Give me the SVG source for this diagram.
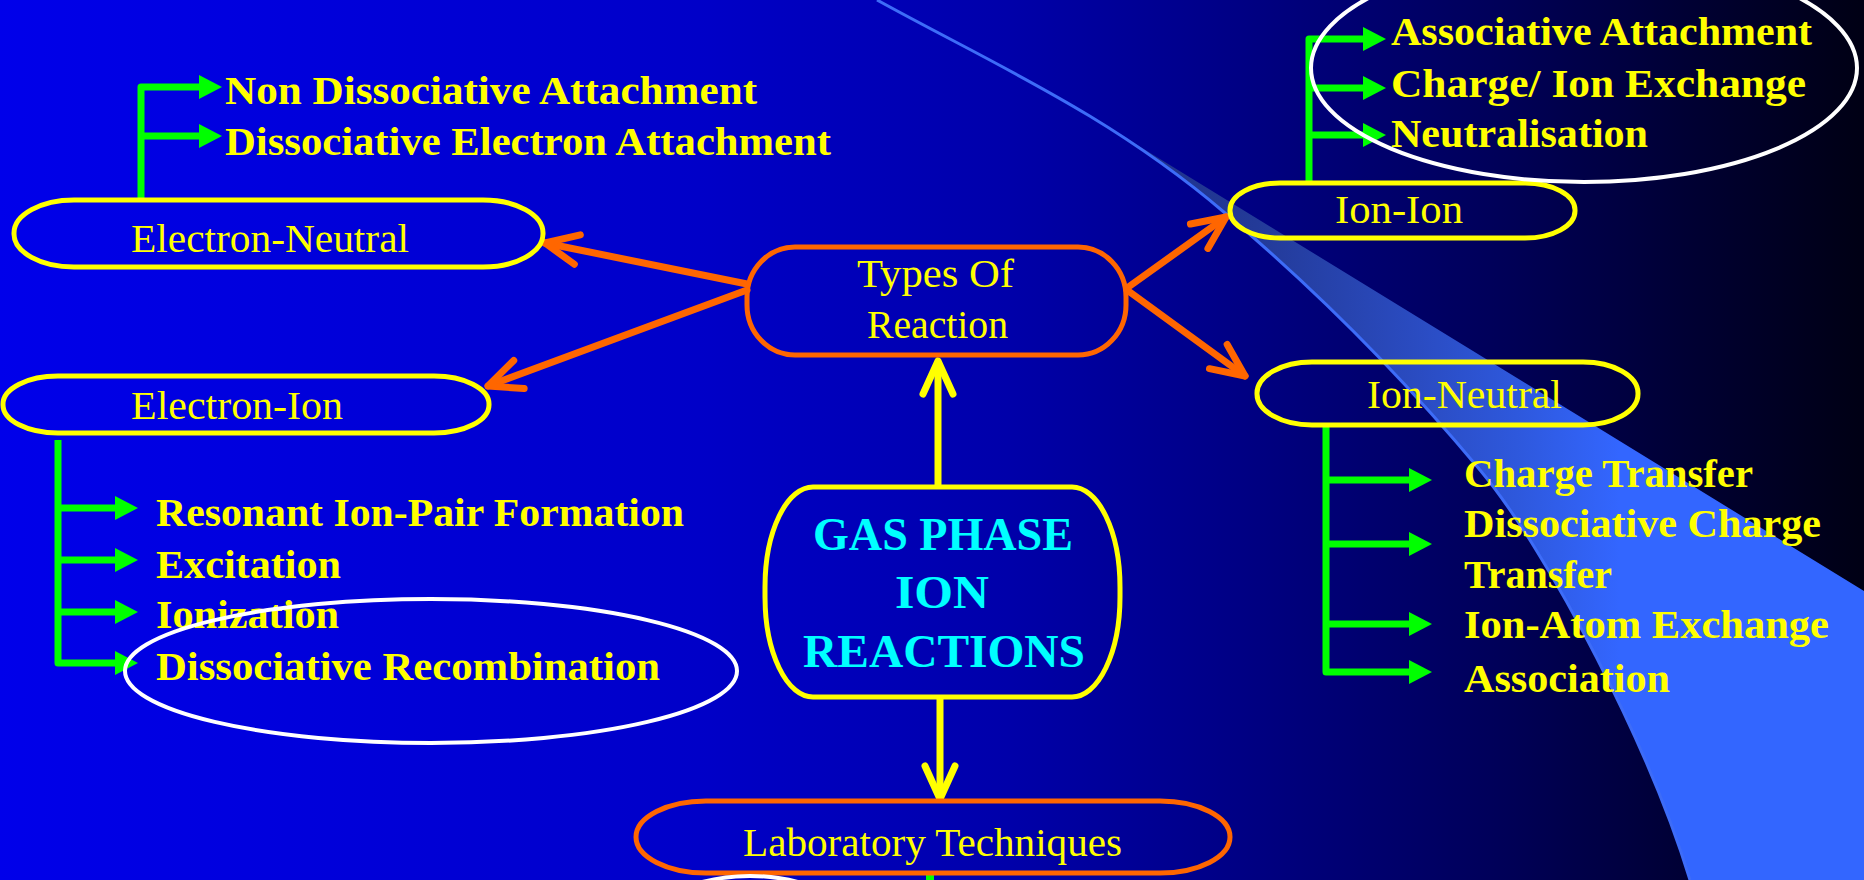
<svg xmlns="http://www.w3.org/2000/svg" width="1864" height="880" viewBox="0 0 1864 880">
<defs>
<linearGradient id="bg" x1="0" y1="0" x2="1864" y2="0" gradientUnits="userSpaceOnUse">
<stop offset="0" stop-color="#0000EA"/>
<stop offset="0.375" stop-color="#0000C8"/>
<stop offset="0.54" stop-color="#0000AA"/>
<stop offset="0.64" stop-color="#00008C"/>
<stop offset="0.8" stop-color="#00005A"/>
<stop offset="0.91" stop-color="#000032"/>
<stop offset="1" stop-color="#000014"/>
</linearGradient>
<linearGradient id="beam" x1="1100" y1="0" x2="1620" y2="0" gradientUnits="userSpaceOnUse">
<stop offset="0" stop-color="#1E2F86"/>
<stop offset="0.3" stop-color="#233A98"/>
<stop offset="0.6" stop-color="#2A4BC0"/>
<stop offset="0.8" stop-color="#2E58DC"/>
<stop offset="1" stop-color="#3366FF"/>
</linearGradient>
<marker id="ao" markerUnits="userSpaceOnUse" orient="auto" overflow="visible" refX="0" refY="0" markerWidth="1" markerHeight="1">
<path d="M-33,-15 L0,0 L-33,15" fill="none" stroke="#FF6600" stroke-width="7" stroke-linecap="round" stroke-linejoin="round"/>
</marker>
<marker id="ay" markerUnits="userSpaceOnUse" orient="auto" overflow="visible" refX="0" refY="0" markerWidth="1" markerHeight="1">
<path d="M-33,-15 L0,0 L-33,15" fill="none" stroke="#FFFF00" stroke-width="7" stroke-linecap="round" stroke-linejoin="round"/>
</marker>
<marker id="ag" markerUnits="userSpaceOnUse" orient="auto" overflow="visible" refX="0" refY="0" markerWidth="1" markerHeight="1">
<path d="M0,-12 L23,0 L0,12 Z" fill="#00FF00"/>
</marker>
<style>
.lbl { font-family: "Liberation Serif", "Times New Roman", serif; font-size: 40px; fill: #FFFF00; }
.item { font-family: "Liberation Serif", "Times New Roman", serif; font-weight: bold; font-size: 40px; fill: #FFFF00; }
.title { font-family: "Liberation Serif", "Times New Roman", serif; font-weight: bold; font-size: 46px; fill: #00FFFF; }
.cy { fill: none; stroke: #FFFF00; stroke-width: 5; }
.co { fill: none; stroke: #FF6600; stroke-width: 5; }
.orange { fill: none; stroke: #FF6600; stroke-width: 7; stroke-linecap: round; marker-end: url(#ao); }
.yel { fill: none; stroke: #FFFF00; stroke-width: 7; marker-end: url(#ay); }
.grn { fill: none; stroke: #00FF00; stroke-width: 7; stroke-linejoin: round; marker-end: url(#ag); }
.hl { fill: none; stroke: #FFFFFF; stroke-width: 4; }
</style>
</defs>

<rect x="0" y="0" width="1864" height="880" fill="url(#bg)"/>

<g id="beam-light">
<path d="M1103,124 L1864,591 L1864,880 L1690,880 C1650,748 1550,554 1480,470 C1395,368 1310,285 1225,213 C1184.4,178.35 1143.8,149.7 1103,124 Z" fill="url(#beam)"/>
<path d="M877,0 C993,64 1109,114 1225,213 C1310,285 1395,368 1480,470 C1550,554 1650,748 1690,880" fill="none" stroke="#3D6CF8" stroke-width="3"/>
</g>

<g id="connectors">
<path class="orange" d="M747,284 L545,243"/>
<path class="orange" d="M747,290 L488,386"/>
<path class="orange" d="M1127,288 L1226,217"/>
<path class="orange" d="M1127,290 L1245,376"/>
<path class="yel" d="M938,487 L938,361"/>
<path class="yel" d="M940,697 L940,799"/>
<path class="grn" d="M141,199 V87 H199"/>
<path class="grn" d="M141,136 H199"/>
<path class="grn" d="M58,440 V663 H115"/>
<path class="grn" d="M58,508 H115"/>
<path class="grn" d="M58,560 H115"/>
<path class="grn" d="M58,612 H115"/>
<path class="grn" d="M1309,182 V39 H1363"/>
<path class="grn" d="M1309,88 H1363"/>
<path class="grn" d="M1309,135 H1363"/>
<path class="grn" d="M1326,425 V672 H1409"/>
<path class="grn" d="M1326,480 H1409"/>
<path class="grn" d="M1326,544 H1409"/>
<path class="grn" d="M1326,624 H1409"/>
<line x1="930" y1="875" x2="930" y2="880" stroke="#00FF00" stroke-width="8"/>
</g>

<g id="electron-neutral">
<rect class="cy" x="14" y="200" width="529" height="67" rx="60" ry="33"/>
<text class="lbl" x="131" y="252" textLength="278" lengthAdjust="spacingAndGlyphs">Electron-Neutral</text>
</g>
<g id="electron-neutral-items">
<text class="item" x="225" y="104" textLength="532" lengthAdjust="spacingAndGlyphs">Non Dissociative Attachment</text>
<text class="item" x="225" y="155" textLength="606" lengthAdjust="spacingAndGlyphs">Dissociative Electron Attachment</text>
</g>

<g id="electron-ion">
<rect class="cy" x="3" y="376" width="486" height="57" rx="55" ry="28"/>
<text class="lbl" x="131" y="419" textLength="212" lengthAdjust="spacingAndGlyphs">Electron-Ion</text>
</g>
<g id="electron-ion-items">
<text class="item" x="156" y="526" textLength="528" lengthAdjust="spacingAndGlyphs">Resonant Ion-Pair Formation</text>
<text class="item" x="156" y="578" textLength="185" lengthAdjust="spacingAndGlyphs">Excitation</text>
<text class="item" x="156" y="628" textLength="183" lengthAdjust="spacingAndGlyphs">Ionization</text>
<text class="item" x="156" y="680" textLength="504" lengthAdjust="spacingAndGlyphs">Dissociative Recombination</text>
</g>

<g id="types-of-reaction">
<rect class="co" x="747" y="247" width="379" height="108" rx="48" ry="50"/>
<text class="lbl" x="857" y="287" textLength="157" lengthAdjust="spacingAndGlyphs">Types Of</text>
<text class="lbl" x="867" y="338" textLength="141" lengthAdjust="spacingAndGlyphs">Reaction</text>
</g>

<g id="gas-phase-ion-reactions">
<rect class="cy" x="765" y="487" width="355" height="210" rx="48" ry="100"/>
<text class="title" x="813" y="550" textLength="260" lengthAdjust="spacingAndGlyphs">GAS PHASE</text>
<text class="title" x="895" y="608" textLength="94" lengthAdjust="spacingAndGlyphs">ION</text>
<text class="title" x="803" y="667" textLength="282" lengthAdjust="spacingAndGlyphs">REACTIONS</text>
</g>

<g id="laboratory-techniques">
<rect class="co" x="636" y="801" width="594" height="72" rx="70" ry="36"/>
<text class="lbl" x="743" y="856" textLength="379" lengthAdjust="spacingAndGlyphs">Laboratory Techniques</text>
</g>

<g id="ion-ion">
<rect class="cy" x="1230" y="183" width="345" height="55" rx="50" ry="27"/>
<text class="lbl" x="1335" y="223" textLength="128" lengthAdjust="spacingAndGlyphs">Ion-Ion</text>
</g>
<g id="ion-ion-items">
<text class="item" x="1391" y="45" textLength="421" lengthAdjust="spacingAndGlyphs">Associative Attachment</text>
<text class="item" x="1391" y="97" textLength="415" lengthAdjust="spacingAndGlyphs">Charge/ Ion Exchange</text>
<text class="item" x="1391" y="147" textLength="257" lengthAdjust="spacingAndGlyphs">Neutralisation</text>
</g>

<g id="ion-neutral">
<rect class="cy" x="1257" y="362" width="381" height="63" rx="55" ry="31"/>
<text class="lbl" x="1367" y="408" textLength="195" lengthAdjust="spacingAndGlyphs">Ion-Neutral</text>
</g>
<g id="ion-neutral-items">
<text class="item" x="1464" y="487" textLength="289" lengthAdjust="spacingAndGlyphs">Charge Transfer</text>
<text class="item" x="1464" y="537" textLength="357" lengthAdjust="spacingAndGlyphs">Dissociative Charge</text>
<text class="item" x="1464" y="588" textLength="148" lengthAdjust="spacingAndGlyphs">Transfer</text>
<text class="item" x="1464" y="638" textLength="365" lengthAdjust="spacingAndGlyphs">Ion-Atom Exchange</text>
<text class="item" x="1464" y="692" textLength="206" lengthAdjust="spacingAndGlyphs">Association</text>
</g>

<g id="highlights">
<ellipse class="hl" cx="431" cy="671" rx="306" ry="72"/>
<ellipse class="hl" cx="1584" cy="68" rx="273" ry="114"/>
<ellipse class="hl" cx="750" cy="976" rx="140" ry="100"/>
</g>
</svg>
